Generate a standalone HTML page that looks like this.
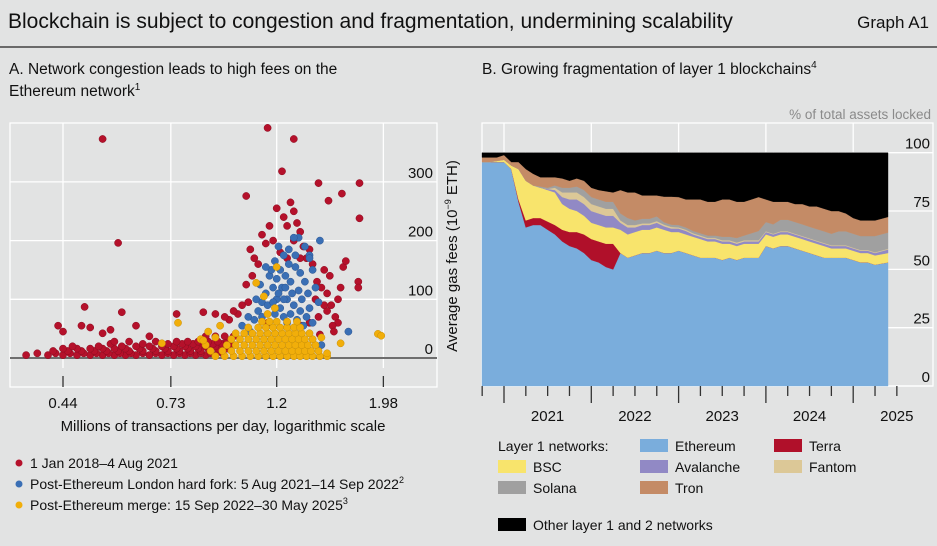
<!DOCTYPE html>
<html><head><meta charset="utf-8">
<style>
html,body{margin:0;padding:0;background:#e2e3e3;}
body{width:937px;height:541px;overflow:hidden;font-family:"Liberation Sans",sans-serif;}
svg text{font-family:"Liberation Sans",sans-serif;fill:#111;}
</style></head>
<body>
<svg id="chart" width="937" height="541" viewBox="0 0 937 541" xmlns="http://www.w3.org/2000/svg">
<rect x="0" y="0" width="937" height="541" fill="#e2e3e3"/>
<text x="8" y="28" font-size="21">Blockchain is subject to congestion and fragmentation, undermining scalability</text>
<text x="929" y="28" font-size="17" text-anchor="end">Graph A1</text>
<line x1="0" y1="47" x2="937" y2="47" stroke="#222" stroke-width="1.2"/>
<text x="9" y="74" font-size="15.5">A. Network congestion leads to high fees on the</text>
<text x="9" y="96" font-size="15.5">Ethereum network<tspan font-size="10" dy="-6">1</tspan></text>
<text x="482" y="74" font-size="15.5">B. Growing fragmentation of layer 1 blockchains<tspan font-size="10" dy="-6">4</tspan></text>
<text x="931" y="119" font-size="13.5" text-anchor="end" style="fill:#8a8a8a">% of total assets locked</text>
<g id="left"></g>
<g id="right"></g>
<g id="legendA">
  <circle cx="19" cy="463" r="3.5" fill="#b5112b"/>
  <text x="30" y="468" font-size="14">1 Jan 2018–4 Aug 2021</text>
  <circle cx="19" cy="484" r="3.5" fill="#3a6fb5"/>
  <text x="30" y="489" font-size="14">Post-Ethereum London hard fork: 5 Aug 2021–14 Sep 2022<tspan font-size="9" dy="-6">2</tspan></text>
  <circle cx="19" cy="505" r="3.5" fill="#f1ae0a"/>
  <text x="30" y="510" font-size="14">Post-Ethereum merge: 15 Sep 2022–30 May 2025<tspan font-size="9" dy="-6">3</tspan></text>
</g>
<g id="legendB">
  <text x="498" y="451" font-size="14">Layer 1 networks:</text>
  <rect x="640" y="439" width="28" height="13" fill="#7aaddc"/>
  <text x="675" y="451" font-size="14">Ethereum</text>
  <rect x="774" y="439" width="28" height="13" fill="#b0102a"/>
  <text x="809" y="451" font-size="14">Terra</text>
  <rect x="498" y="460" width="28" height="13" fill="#f8e46c"/>
  <text x="533" y="472" font-size="14">BSC</text>
  <rect x="640" y="460" width="28" height="13" fill="#9189c5"/>
  <text x="675" y="472" font-size="14">Avalanche</text>
  <rect x="774" y="460" width="28" height="13" fill="#dcc897"/>
  <text x="809" y="472" font-size="14">Fantom</text>
  <rect x="498" y="481" width="28" height="13" fill="#a0a0a0"/>
  <text x="533" y="493" font-size="14">Solana</text>
  <rect x="640" y="481" width="28" height="13" fill="#c48b66"/>
  <text x="675" y="493" font-size="14">Tron</text>
  <rect x="498" y="518" width="28" height="13" fill="#000"/>
  <text x="533" y="530" font-size="14">Other layer 1 and 2 networks</text>
</g>
</svg>
<script>
// ---------- Panel A data ----------
const xTicksA = [0.44, 0.73, 1.2, 1.98];
const yTicksA = [0, 100, 200, 300];
const redX = [0.37,0.41,0.44,0.47,0.50,0.53,0.56,0.59,0.62,0.66,0.70,0.74,0.78,0.82,0.86,0.90,
 0.39,0.425,0.455,0.485,0.515,0.545,0.575,0.605,0.64,0.68,0.72,0.76,0.80,0.84,0.88,0.93,
 0.42,0.45,0.48,0.51,0.54,0.57,0.60,0.64,0.68,0.72,0.76,0.80,0.84,0.88,0.92,
 0.44,0.47,0.50,0.53,0.56,0.59,0.63,0.67,0.71,0.75,0.79,0.83,0.87,0.91,0.95,
 0.46,0.52,0.58,0.62,0.66,0.70,0.74,0.78,0.82,0.86,0.90,0.94,
 0.55,0.64,0.72,0.77,0.81,0.85,0.89,0.93,0.97,
 0.56,0.60,0.68,0.75,0.79,0.83,0.87,0.91,0.95,
 0.66,0.86,0.90,0.94,0.98,
 0.53,0.57,0.487,0.43,0.44,0.48,0.50,0.53,0.55,0.58,0.62,0.75,0.85,
 1.00,0.96,0.98,1.02,1.05,1.04,1.07,1.08,1.10,1.06,1.12,1.14,1.16,1.20,1.24,1.26,1.28,1.30,1.32,1.34,1.36,1.38,1.40,1.42,1.45,1.48,1.50,1.52,1.55,1.58,1.60,1.56,1.62,1.64,1.66,1.60,1.52,1.44,1.46,1.40,1.35,1.76,1.76,1.50,1.54,1.22,1.26,1.18,1.30,1.34,
 1.15,1.30,1.23,1.46,1.77,1.63,1.53,1.04,1.77,0.90,0.94,1.57,1.47,1.15];
const redY = [5,5,5,5,5,5,5,5,5,5,5,5,5,5,5,5,
 8,8,8,8,8,8,8,8,8,8,8,8,8,8,8,8,
 12,12,12,12,12,12,12,12,12,12,12,12,12,12,12,
 16,16,16,16,16,16,16,16,16,16,16,16,16,16,16,
 20,20,20,20,20,20,20,20,20,20,20,20,
 24,24,24,24,24,24,24,24,24,
 28,28,28,28,28,28,28,28,28,
 37,37,37,37,37,
 373,196,87,55,45,55,52,42,48,78,55,75,78,
 75,65,80,90,95,125,140,170,160,185,210,195,225,255,240,225,265,250,230,215,190,170,185,160,130,120,150,110,90,70,60,55,120,155,165,100,80,100,70,60,55,130,120,90,140,180,170,200,200,170,
 392,373,318,298,298,280,268,276,238,75,70,45,40,60];
const blueX = [1.02,1.05,1.08,1.06,1.10,1.12,1.14,1.11,1.16,1.18,1.20,1.22,1.24,1.26,1.28,1.30,1.32,1.34,1.36,1.38,1.40,1.42,1.44,1.42,1.40,1.37,1.33,1.30,1.27,1.24,1.21,1.19,1.22,1.25,1.28,1.31,1.34,1.37,1.33,1.29,1.26,1.23,1.20,1.17,1.14,1.15,1.19,1.24,1.27,1.35,1.39,1.46,1.47,1.68,1.48,1.40,1.31,1.25,1.21,1.18,1.12,1.09];
const blueY = [55,70,65,45,80,95,110,125,140,120,100,85,70,60,75,90,65,80,55,70,85,60,120,150,175,190,205,205,185,175,190,165,150,140,130,155,145,130,115,110,100,120,135,150,155,90,75,100,160,100,110,95,200,45,22,170,175,120,110,95,70,100];
const yelX = [0.90,0.94,0.98,1.02,1.06,1.10,1.14,1.18,1.22,1.26,1.30,1.34,1.38,1.42,1.47,1.52,
 0.88,0.93,0.97,1.01,1.05,1.09,1.13,1.17,1.21,1.25,1.29,1.33,1.37,1.41,1.46,
 0.86,0.95,0.99,1.03,1.07,1.11,1.15,1.19,1.23,1.27,1.31,1.35,1.39,1.44,
 0.84,0.97,1.01,1.05,1.09,1.13,1.17,1.21,1.25,1.29,1.33,1.37,1.42,
 0.99,1.03,1.07,1.11,1.15,1.19,1.23,1.27,1.31,1.35,1.40,
 1.05,1.10,1.14,1.18,1.22,1.26,1.30,1.34,
 1.12,1.16,1.20,1.26,1.32,
 1.15,1.19,1.13,1.20,1.09,0.755,0.70,0.85,0.87,0.90,0.92,1.93,1.96,1.62,1.48,1.52];
const yelY = [3,3,3,3,3,3,3,3,3,3,3,3,3,3,3,3,
 12,12,12,12,12,12,12,12,12,12,12,12,12,12,12,
 22,22,22,22,22,22,22,22,22,22,22,22,22,22,
 32,32,32,32,32,32,32,32,32,32,32,32,32,
 42,42,42,42,42,42,42,42,42,42,42,
 52,52,52,52,52,52,52,52,
 62,62,62,62,62,
 75,85,105,155,128,60,25,30,45,35,55,41,38,25,35,8];

// ---------- Panel B data (monthly, Oct 2020 – May 2025, % shares) ----------
const months = 56;
const yearLabels = ["2021","2022","2023","2024","2025"];
const yTicksB = [0,25,50,75,100];
const ethereum = [96,96,96, 96,93,79,68,69,69,67,65,62,60,59,57, 54,53,51,50,57,55,56,57,57,58,57,57, 58,57,56,55,55,55,54,55,54,55,55,55, 60,59,60,60,59,58,57,56,55,55,55,55, 54,53,53,52,53];
const terra = [0,0,0, 0,0,1,3,3,3,3.5,4,5,6,7,8, 9,9,10,11,0,0,0,0,0,0,0,0, 0,0,0,0,0,0,0,0,0,0,0,0, 0,0,0,0,0,0,0,0,0,0,0,0, 0,0,0,0,0];
const bsc = [0,0,0.5, 1,1.5,13,17,14,13,13.5,14,11,10,9,8, 7,7,7,7,10,10,10,10,10,10,10,9, 8,8,8,8,7,7,7,6,6,6,6,6, 5,5,5,5,5,5,5,5,5,4,4,4, 4,4,4,4,4];
const avalanche = [0,0,0, 0,0,0,0,0,0,0.5,1,3,4,5,5, 5,5,5,5,3,3,2,2,2,2,1.5,1.5, 1.5,1.5,1,1,1,1,1,1,1,1,1,1, 1,1,1,1,1,1,1,1,1,1,1,1, 1,1,1,1,1.5];
const fantom = [0,0,0, 0,0,0,0,0,0,0,1,2,3,3,3, 3,3,3,3,1,1,1,0.7,0.7,0.7,0.7,0.7, 0.5,0.5,0.5,0.5,0.5,0.5,0.5,0.5,0.5,0.5,0.5,0.5, 0.3,0.3,0.3,0.3,0.3,0.3,0.3,0.3,0.3,0.3,0.3,0.3, 0.3,0.3,0.3,0.3,0.3];
const solana = [0,0,0, 0,0,0,0,0,0.5,0.5,1,2,2,2.5,3, 3,3,3,3,3,3,2,2,2,2,1,1, 1,1,1,1,1,1,1.5,1.5,2,2,3,4, 4,4,5,5,5,5,5,5,5,5,6,6, 6,6,6,7,7];
const tron = [2,2,1.5, 2,1.5,3,5,5,4,4.5,3.5,4,3,3.5,4, 4,4,4.5,4,10,11,12,10,10,9,11,12, 12,12,13.5,14.5,14.5,14.5,16,16,15.5,14.5,14.5,14.5, 9.7,9.7,7.7,7.7,7.7,8.7,8.7,9.7,9.7,9.7,8.7,7.7, 6.7,6.7,6.7,6.7,6.7];

const NS = "http://www.w3.org/2000/svg";
function mk(tag, attrs, parent){
  const e = document.createElementNS(NS, tag);
  for (const k in attrs) e.setAttribute(k, attrs[k]);
  parent.appendChild(e);
  return e;
}

// ---------- Panel A ----------
const L = document.getElementById('left');
const A = {x0:10, x1:437, y0:123, y1:387};
function xA(v){ return 63 + 213*Math.log(v/0.44); }
function yA(v){ return 358 - v*0.587; }
let r = mk('rect',{x:A.x0,y:A.y0,width:A.x1-A.x0,height:A.y1-A.y0,fill:'none',stroke:'#fff','stroke-width':1.3},L);


yTicksA.forEach(t=>{
  if (t>0){
    const g = mk('line',{x1:A.x0,x2:A.x1,y1:yA(t),y2:yA(t),stroke:'#fff','stroke-width':1.3},L);
    
    
  }
  const tx = mk('text',{x:433,y:yA(t)-4,'font-size':15,'text-anchor':'end'},L);
  tx.textContent = t;
  
  
});
xTicksA.forEach(t=>{
  const x = xA(t);
  const g = mk('line',{x1:x,x2:x,y1:A.y0,y2:368,stroke:'#fff','stroke-width':1.3},L);
  
  
  const tk = mk('line',{x1:x,x2:x,y1:376,y2:387,stroke:'#333','stroke-width':1.3},L);
  
  
  const tx = mk('text',{x:x,y:408,'font-size':15,'text-anchor':'middle'},L);
  tx.textContent = t;
  
  
});
const zl = mk('line',{x1:A.x0,x2:A.x1,y1:yA(0),y2:yA(0),stroke:'#6e6e6e','stroke-width':2},L);


const xt = mk('text',{x:223,y:431,'font-size':15,'text-anchor':'middle'},L);
xt.textContent = 'Millions of transactions per day, logarithmic scale';


const yt = mk('text',{x:0,y:0,'font-size':15,'text-anchor':'middle',transform:'translate(457,256) rotate(-90)'},L);
yt.innerHTML = 'Average gas fees (10<tspan font-size="9" dy="-6">−9</tspan><tspan dy="6"> ETH)</tspan>';


function drawPts(xs, ys, fill, stroke, name){
  const g = mk('g',{},L);
  
  
  for (let i=0;i<xs.length;i++){
    const c = mk('circle',{cx:xA(xs[i]).toFixed(1),cy:yA(ys[i]).toFixed(1),r:3.6,fill:fill,stroke:stroke,'stroke-width':0.5},g);
    
    
  }
}
drawPts(redX, redY, '#b5112b', '#8a0c20', 'series-2018-2021');
drawPts(blueX, blueY, '#3a6fb5', '#2c5590', 'series-london');
drawPts(yelX, yelY, '#f1ae0a', '#c98f05', 'series-merge');

// ---------- Panel B ----------
const R = document.getElementById('right');
const B = {x0:482, x1:933, y0:123, y1:386, dx1:888};
function xB(i){ return 504 + (i-3)*87.3/12; }
function yB(v){ return 386 - v*2.333; }
const series = [
  {d:ethereum, c:'#7aaddc', n:'area-ethereum'},
  {d:terra, c:'#b0102a', n:'area-terra'},
  {d:bsc, c:'#f8e46c', n:'area-bsc'},
  {d:avalanche, c:'#9189c5', n:'area-avalanche'},
  {d:fantom, c:'#dcc897', n:'area-fantom'},
  {d:solana, c:'#a0a0a0', n:'area-solana'},
  {d:tron, c:'#c48b66', n:'area-tron'}
];
const fr = mk('rect',{x:B.x0,y:B.y0,width:B.x1-B.x0,height:B.y1-B.y0,fill:'none',stroke:'#fff','stroke-width':1.3},R);


for (let y=0;y<5;y++){
  const yr = 504 + y*87.3;
  const g = mk('line',{x1:yr,x2:yr,y1:B.y0,y2:B.y1,stroke:'#fff','stroke-width':1.3},R);
  
  
}
yTicksB.forEach(t=>{
  const g = mk('line',{x1:B.x0,x2:B.x1,y1:yB(t),y2:yB(t),stroke:'#fff','stroke-width':1.3},R);
  
  
});
const xs = [];
for (let i=0;i<months;i++) xs.push(i===0 ? B.x0 : xB(i));
xs[months-1] = B.dx1;
let base = new Array(months).fill(0);
const other = [];
for (let i=0;i<months;i++){
  let s=0; series.forEach(se=>{ s+=se.d[i]; });
  other.push(100-s);
}
series.push({d:other, c:'#000', n:'area-other'});
series.forEach(se=>{
  const top = base.map((b,i)=>b+se.d[i]);
  let p = 'M'+xs[0].toFixed(1)+','+yB(top[0]).toFixed(1);
  for (let i=1;i<months;i++) p += 'L'+xs[i].toFixed(1)+','+yB(top[i]).toFixed(1);
  for (let i=months-1;i>=0;i--) p += 'L'+xs[i].toFixed(1)+','+yB(base[i]).toFixed(1);
  p += 'Z';
  const a = mk('path',{d:p,fill:se.c,stroke:se.c,'stroke-width':0.4},R);
  
  
  base = top;
});
yTicksB.forEach(t=>{
  const tx = mk('text',{x:930,y:yB(t)-4,'font-size':15,'text-anchor':'end'},R);
  tx.textContent = t;
  
  
});
for (let q=-1;q<=18;q++){
  const x = 504 + q*87.3/4;
  const major = (q%4===0);
  const tk = mk('line',{x1:x,x2:x,y1:B.y1,y2:major?403:396,stroke:'#333','stroke-width':1.3},R);
  
  
}
yearLabels.forEach((lab,k)=>{
  const tx = mk('text',{x:547.6+k*87.3,y:421,'font-size':15,'text-anchor':'middle'},R);
  tx.textContent = lab;
  
  
});
</script>
</body></html>
